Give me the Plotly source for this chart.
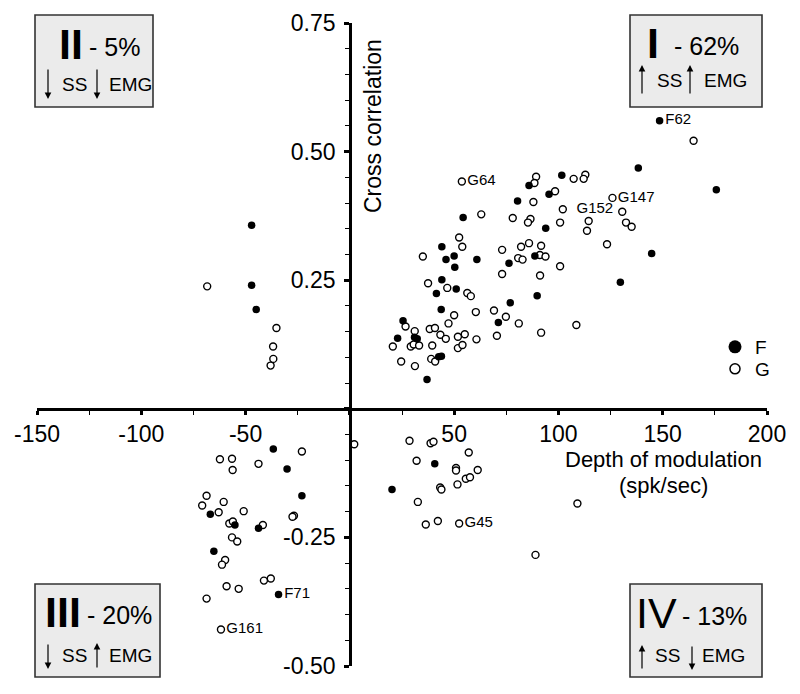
import plotly.graph_objects as go

# ---------------- data ----------------
# F cells (filled circles)
F_x = [148.5, 138.3, 175.7, 101.6, 85.9, 95.5, 80.4, 54.3, 93.9, 44.1, 50.0, 46.1, 60.9, 50.3,
       88.7, 76.3, 144.7, 44.1, 51.0, 41.5, 89.8, 129.7, 43.8, 76.9, 71.2, 25.5, 31.0, 32.3,
       22.9, 43.9, 42.6, 37.0,
       -47.1, -47.1, -44.9,
       -36.7, -30.1, -23.0, -66.9, -55.1, -43.8, -65.2, -34.2,
       40.7, 20.2]
F_y = [0.560, 0.468, 0.426, 0.454, 0.434, 0.417, 0.404, 0.372, 0.351, 0.315, 0.297, 0.290, 0.290, 0.275,
       0.297, 0.283, 0.302, 0.251, 0.233, 0.224, 0.220, 0.246, 0.193, 0.206, 0.168, 0.171, 0.139, 0.136,
       0.137, 0.102, 0.101, 0.057,
       0.357, 0.240, 0.193,
       -0.078, -0.117, -0.169, -0.205, -0.226, -0.232, -0.277, -0.361,
       -0.107, -0.157]
F_labels = {0: "F62", 42: "F71"}

# G cells (open circles)
G_x = [164.8, 53.7, 89.3, 88.5, 107.3, 112.9, 112.1, 98.4, 88.0, 125.9, 102.1, 130.6, 114.5, 113.7,
       132.4, 135.1, 63.0, 78.1, 86.6, 85.4, 100.8, 123.3, 52.4, 53.9, 73.0, 82.1, 85.9, 91.7, 91.1,
       93.8, 80.7, 82.8, 100.8, 73.0, 91.2, 35.0, 37.5, 46.7, 56.3, 58.0, 60.4, 69.1, 74.8, 50.0,
       47.3, 26.7, 31.1, 38.3, 40.8, 43.4, 46.0, 51.8, 55.1, 60.7, 70.5, 81.0, 108.6, 91.7, 20.6,
       29.2, 30.6, 33.2, 39.5, 51.8, 54.0, 24.6, 31.2, 39.0, 40.9,
       -68.4, -35.2, -36.8, -36.7, -38.0,
       -23.0, -62.3, -56.5, -56.2, -43.8, -68.7, -70.8, -60.5, -62.9, -50.9, -26.8, -27.5, -57.8,
       -56.1, -41.7, -56.5, -54.0, -59.8, -61.3, -59.1, -53.3, -41.2, -37.9, -68.7, -61.8,
       2.1, 28.6, 38.7, 40.1, 57.0, 32.0, 50.9, 50.9, 61.3, 55.6, 57.6, 51.6, 43.3, 43.9, 32.6,
       109.1, 36.4, 42.2, 52.4, 89.0]
G_y = [0.521, 0.442, 0.451, 0.439, 0.447, 0.455, 0.447, 0.423, 0.402, 0.410, 0.388, 0.383, 0.365, 0.346,
       0.362, 0.354, 0.378, 0.371, 0.369, 0.362, 0.362, 0.320, 0.333, 0.315, 0.309, 0.315, 0.322, 0.317,
       0.299, 0.296, 0.293, 0.290, 0.277, 0.262, 0.259, 0.296, 0.244, 0.235, 0.225, 0.219, 0.188, 0.191,
       0.179, 0.182, 0.166, 0.160, 0.151, 0.155, 0.157, 0.144, 0.136, 0.140, 0.145, 0.135, 0.142, 0.166,
       0.163, 0.148, 0.121, 0.121, 0.125, 0.123, 0.123, 0.118, 0.124, 0.092, 0.083, 0.097, 0.092,
       0.238, 0.157, 0.121, 0.097, 0.084,
       -0.083, -0.098, -0.097, -0.119, -0.107, -0.169, -0.188, -0.181, -0.201, -0.199, -0.208, -0.210,
       -0.223, -0.219, -0.226, -0.250, -0.258, -0.294, -0.303, -0.345, -0.350, -0.334, -0.330, -0.369,
       -0.429,
       -0.069, -0.062, -0.067, -0.064, -0.085, -0.101, -0.115, -0.120, -0.119, -0.136, -0.133, -0.147,
       -0.153, -0.157, -0.181, -0.184, -0.225, -0.218, -0.223, -0.284]
G_labels = {1: "G64", 9: "G147", 10: "  G152", 98: "G161", 117: "G45"}

X_TICKS = [-150, -100, -50, 0, 50, 100, 150, 200]
X_TICKTEXT = ["-150", "-100", "-50", "", "50", "100", "150", "200"]
Y_TICKS = [-0.5, -0.25, 0, 0.25, 0.5, 0.75]
Y_TICKTEXT = ["-0.50", "-0.25", "", "0.25", "0.50", "0.75"]

QUADRANTS = [
    # numeral, percent, ss_up, emg_up
    ("I", "- 62%", True, True),
    ("II", "- 5%", False, False),
    ("III", "- 20%", False, True),
    ("IV", "- 13%", True, False),
]

# ---------------- layout helpers ----------------
W, H = 800, 694
L, R, T, B = 37, 33, 23, 28
PW, PH = W - L - R, H - T - B
FONT = "Liberation Sans, Arial, Helvetica, sans-serif"
NARROW = "Liberation Sans Narrow, Arial Narrow, Liberation Sans, sans-serif"


def px(x):
    return (x - L) / PW


def py(y):
    return (H - B - y) / PH


F_text = [F_labels.get(i, "") for i in range(len(F_x))]
G_text = [G_labels.get(i, "") for i in range(len(G_x))]

fig = go.Figure()
fig.add_trace(go.Scatter(
    x=G_x, y=G_y, mode="markers+text", text=G_text, textposition="middle right",
    textfont=dict(size=15, family=FONT, color="black"),
    marker=dict(size=7, color="white", line=dict(color="black", width=1.4)),
    showlegend=False, cliponaxis=False))
fig.add_trace(go.Scatter(
    x=F_x, y=F_y, mode="markers+text", text=F_text, textposition="middle right",
    textfont=dict(size=15, family=FONT, color="black"),
    marker=dict(size=7.5, color="black", line=dict(width=0)),
    showlegend=False, cliponaxis=False))
# legend entries
fig.add_trace(go.Scatter(x=[None], y=[None], mode="markers", name="F", legend="legend",
                         marker=dict(size=13, color="black")))
fig.add_trace(go.Scatter(x=[None], y=[None], mode="markers", name="G", legend="legend2",
                         marker=dict(size=10, color="white", line=dict(color="black", width=1.5))))

x_pos = 0.5 / 1.25
y_pos = 150 / 350
tickfont = dict(size=23, family=FONT, color="black")
minor_x = dict(ticks="outside", ticklen=4, tickwidth=1.3, tickcolor="black", tickmode="linear", tick0=0, dtick=25)
minor_y = dict(ticks="outside", ticklen=4, tickwidth=1.3, tickcolor="black", tickmode="linear", tick0=0, dtick=0.05)

legend_common = dict(xanchor="left", yanchor="middle", font=dict(size=19, family=FONT),
                     bgcolor="rgba(0,0,0,0)", itemsizing="trace", borderwidth=0)

fig.update_layout(
    width=W, height=H, margin=dict(l=L, r=R, t=T, b=B, autoexpand=False),
    plot_bgcolor="white", paper_bgcolor="white",
    font=dict(family=FONT, color="black"),
    xaxis=dict(range=[-150, 200], domain=[0, 1], anchor="free", position=x_pos, automargin=False,
               showline=True, linewidth=2.5, linecolor="black", showgrid=False, zeroline=False,
               ticks="outside", ticklen=4, tickwidth=2.5, tickcolor="black",
               tickmode="array", tickvals=X_TICKS, ticktext=X_TICKTEXT, tickfont=tickfont,
               minor=minor_x),
    xaxis2=dict(range=[-150, 200], domain=[0, 1], overlaying="x", anchor="free", position=x_pos,
                automargin=False, side="top", showline=False, showgrid=False, zeroline=False,
                ticks="outside", ticklen=5, tickwidth=2.5, tickcolor="black",
                tickmode="array", tickvals=X_TICKS, showticklabels=False, minor=minor_x),
    yaxis=dict(range=[-0.5, 0.75], domain=[0, 1], anchor="free", position=y_pos, automargin=False,
               showline=True, linewidth=2.5, linecolor="black", showgrid=False, zeroline=False,
               ticks="outside", ticklen=5, tickwidth=2.5, tickcolor="black",
               tickmode="array", tickvals=Y_TICKS, ticktext=Y_TICKTEXT, tickfont=tickfont,
               ticklabelstandoff=4, minor=minor_y),
    yaxis2=dict(range=[-0.5, 0.75], domain=[0, 1], overlaying="y", anchor="free", position=y_pos,
                automargin=False, side="right", showline=False, showgrid=False, zeroline=False,
                ticks="outside", ticklen=5, tickwidth=2.5, tickcolor="black",
                tickmode="array", tickvals=Y_TICKS, showticklabels=False, minor=minor_y),
    legend=dict(x=px(715), y=py(347), **legend_common),
    legend2=dict(x=px(715), y=py(369), **legend_common),
)

annotations = []
shapes = []

# axis titles
annotations.append(dict(text="Cross correlation", x=px(373), y=py(126), xref="paper", yref="paper",
                        textangle=-90, showarrow=False, xanchor="center", yanchor="middle",
                        font=dict(size=23, family=FONT)))
annotations.append(dict(text="Depth of modulation", x=px(663), y=py(459), xref="paper", yref="paper",
                        showarrow=False, xanchor="center", yanchor="middle", font=dict(size=22, family=FONT)))
annotations.append(dict(text="(spk/sec)", x=px(663), y=py(485), xref="paper", yref="paper",
                        showarrow=False, xanchor="center", yanchor="middle", font=dict(size=22, family=FONT)))

# quadrant boxes: (box x0, y0, x1, y1, numeral centre x, pct left x, row1 y, arrow1 x, ss x, arrow2 x, emg x, row2 y, arrow top, arrow bottom, numeral bold)
box_geo = {
    "I":   (630, 15, 762, 107, 653, 672, 44, 642, 655, 690, 702, 80, 65, 95, True),
    "II":  (35, 15, 153, 107, 70.5, 87, 45, 48, 60, 97, 107, 84, 68, 99, True),
    "III": (35, 584, 160, 677, 62.5, 85, 613, 48, 60, 97, 107, 655, 643, 669, True),
    "IV":  (630, 584, 762, 677, 656, 680, 614, 642, 653, 692, 700, 655, 645, 670, False),
}

for numeral, pct, ss_up, emg_up in QUADRANTS:
    x0, y0, x1, y1, nx, pctx, ry, a1x, ssx, a2x, emgx, r2y, atop, abot, bold = box_geo[numeral]
    shapes.append(dict(type="rect", xref="paper", yref="paper", x0=px(x0), x1=px(x1), y0=py(y1), y1=py(y0),
                       fillcolor="#ebebeb", line=dict(color="#333333", width=1.6), layer="above"))
    ntext = "<b>%s</b>" % numeral if bold else numeral
    annotations.append(dict(text=ntext, x=px(nx), y=py(ry - 1), xref="paper", yref="paper", showarrow=False,
                            xanchor="center", yanchor="middle", font=dict(size=43, family=NARROW)))
    annotations.append(dict(text=pct, x=px(pctx), y=py(ry + 2), xref="paper", yref="paper", showarrow=False,
                            xanchor="left", yanchor="middle", font=dict(size=25, family=FONT)))
    annotations.append(dict(text="SS", x=px(ssx), y=py(r2y), xref="paper", yref="paper", showarrow=False,
                            xanchor="left", yanchor="middle", font=dict(size=19, family=FONT)))
    annotations.append(dict(text="EMG", x=px(emgx), y=py(r2y), xref="paper", yref="paper", showarrow=False,
                            xanchor="left", yanchor="middle", font=dict(size=19, family=FONT)))
    for ax_, up in ((a1x, ss_up), (a2x, emg_up)):
        tip, tail = (atop, abot) if up else (abot, atop)
        annotations.append(dict(text="", x=px(ax_), y=py(tip), xref="paper", yref="paper",
                                showarrow=True, ax=0, ay=tail - tip, arrowhead=2, arrowsize=1.1,
                                arrowwidth=1.2, arrowcolor="black", standoff=0, startstandoff=0))

fig.update_layout(annotations=annotations, shapes=shapes)
fig.write_html("out.html", config={"displayModeBar": False},
               post_script="document.body.style.margin='0px';")
